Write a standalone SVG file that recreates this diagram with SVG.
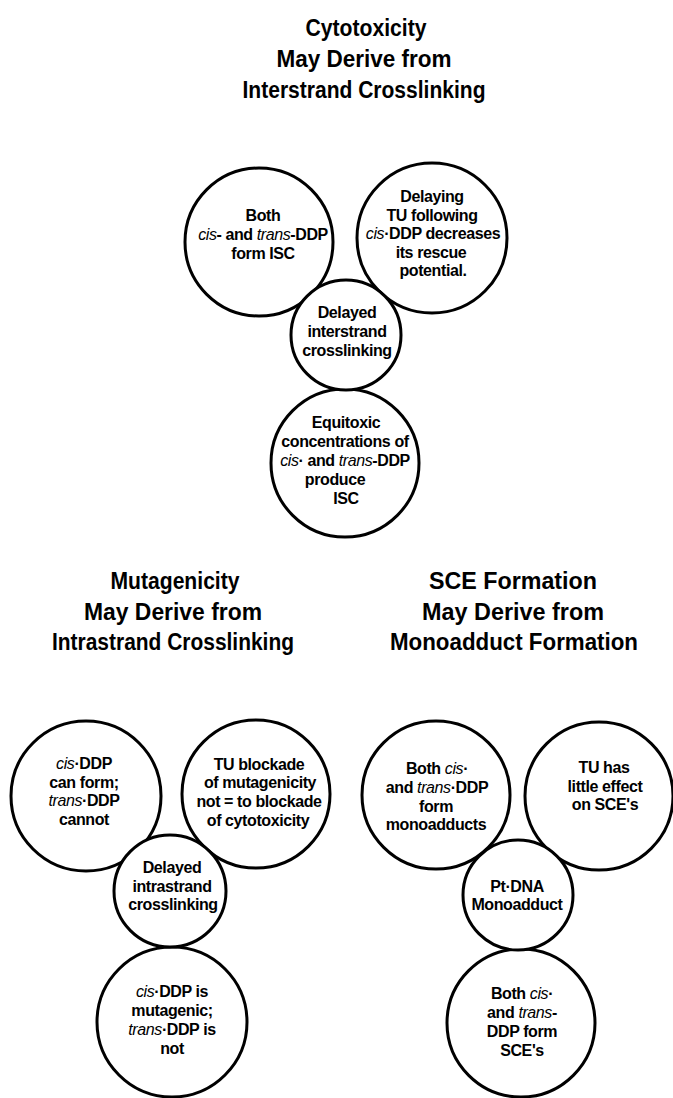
<svg xmlns="http://www.w3.org/2000/svg" width="673" height="1098" viewBox="0 0 673 1098">
<style>
.c{fill:#fff;stroke:#000;stroke-width:3}
.t{font-family:"Liberation Sans",Arial,sans-serif;font-weight:bold;font-size:16px;text-anchor:middle;fill:#000;letter-spacing:-0.4px}
.i{font-style:italic;font-weight:normal}
.h{font-family:"Liberation Sans",Arial,sans-serif;font-weight:bold;font-size:23px;text-anchor:middle;fill:#000}
</style>
<rect width="673" height="1098" fill="#fff"/>

<g id="title-cytotoxicity" class="h">
<text x="366" y="36" textLength="121" lengthAdjust="spacingAndGlyphs">Cytotoxicity</text>
<text x="364" y="67" textLength="175" lengthAdjust="spacingAndGlyphs">May Derive from</text>
<text x="364" y="98" textLength="243" lengthAdjust="spacingAndGlyphs">Interstrand Crosslinking</text>
</g>
<g id="title-mutagenicity" class="h">
<text x="175" y="589" textLength="129" lengthAdjust="spacingAndGlyphs">Mutagenicity</text>
<text x="173" y="620" textLength="178" lengthAdjust="spacingAndGlyphs">May Derive from</text>
<text x="173" y="650" textLength="242" lengthAdjust="spacingAndGlyphs">Intrastrand Crosslinking</text>
</g>
<g id="title-sce" class="h">
<text x="513" y="589" textLength="168" lengthAdjust="spacingAndGlyphs">SCE Formation</text>
<text x="513" y="620" textLength="182" lengthAdjust="spacingAndGlyphs">May Derive from</text>
<text x="514" y="650" textLength="248" lengthAdjust="spacingAndGlyphs">Monoadduct Formation</text>
</g>

<g id="connectors"></g>

<!-- Top cluster -->
<g id="node-both-isc">
<circle class="c" cx="259" cy="242" r="74"/>
<text class="t" x="263" y="221">Both</text>
<text class="t" x="263" y="240"><tspan class="i">cis</tspan>- and <tspan class="i">trans</tspan>-DDP</text>
<text class="t" x="263" y="259">form ISC</text>
</g>
<g id="node-delaying-tu">
<circle class="c" cx="432" cy="238" r="75"/>
<text class="t" x="432" y="202">Delaying</text>
<text class="t" x="432" y="220.5">TU following</text>
<text class="t" x="433" y="239"><tspan class="i">cis</tspan>·DDP decreases</text>
<text class="t" x="431" y="257.5">its rescue</text>
<text class="t" x="433" y="276">potential.</text>
</g>
<g id="node-equitoxic">
<circle class="c" cx="345" cy="463" r="74"/>
<text class="t" x="346" y="428">Equitoxic</text>
<text class="t" x="345" y="447">concentrations of</text>
<text class="t" x="345" y="466"><tspan class="i">cis</tspan>· and <tspan class="i">trans</tspan>-DDP</text>
<text class="t" x="335" y="485">produce</text>
<text class="t" x="346" y="504">ISC</text>
</g>
<g id="node-delayed-interstrand">
<circle class="c" cx="346" cy="335" r="55"/>
<text class="t" x="347" y="318">Delayed</text>
<text class="t" x="347" y="337">interstrand</text>
<text class="t" x="347" y="356">crosslinking</text>
</g>

<!-- Bottom-left cluster -->
<g id="node-cis-can-form">
<circle class="c" cx="86" cy="796" r="75"/>
<text class="t" x="84" y="769"><tspan class="i">cis</tspan>·DDP</text>
<text class="t" x="84" y="788">can form;</text>
<text class="t" x="84" y="806"><tspan class="i">trans</tspan>·DDP</text>
<text class="t" x="84" y="825">cannot</text>
</g>
<g id="node-tu-blockade">
<circle class="c" cx="256" cy="794" r="74"/>
<text class="t" x="259" y="770">TU blockade</text>
<text class="t" x="260" y="788">of mutagenicity</text>
<text class="t" x="259" y="807">not = to blockade</text>
<text class="t" x="258" y="826">of cytotoxicity</text>
</g>
<g id="node-cis-mutagenic">
<circle class="c" cx="172" cy="1022" r="75"/>
<text class="t" x="172" y="997"><tspan class="i">cis</tspan>·DDP is</text>
<text class="t" x="172" y="1016">mutagenic;</text>
<text class="t" x="172" y="1035"><tspan class="i">trans</tspan>·DDP is</text>
<text class="t" x="172" y="1054">not</text>
</g>
<g id="node-delayed-intrastrand">
<circle class="c" cx="170" cy="891" r="56"/>
<text class="t" x="172" y="873">Delayed</text>
<text class="t" x="172" y="892">intrastrand</text>
<text class="t" x="173" y="910">crosslinking</text>
</g>

<!-- Bottom-right cluster -->
<g id="node-both-monoadducts">
<circle class="c" cx="436" cy="795" r="74"/>
<text class="t" x="437" y="774">Both <tspan class="i">cis</tspan>·</text>
<text class="t" x="437" y="793">and <tspan class="i">trans</tspan>·DDP</text>
<text class="t" x="436" y="812">form</text>
<text class="t" x="436" y="830">monoadducts</text>
</g>
<g id="node-tu-little-effect">
<circle class="c" cx="599" cy="796" r="74"/>
<text class="t" x="604" y="773">TU has</text>
<text class="t" x="605" y="792">little effect</text>
<text class="t" x="605" y="810">on SCE's</text>
</g>
<g id="node-both-sces">
<circle class="c" cx="521" cy="1023" r="74"/>
<text class="t" x="522" y="999">Both <tspan class="i">cis</tspan>·</text>
<text class="t" x="522" y="1018">and <tspan class="i">trans</tspan>-</text>
<text class="t" x="522" y="1037">DDP form</text>
<text class="t" x="522" y="1056">SCE's</text>
</g>
<g id="node-pt-dna">
<circle class="c" cx="518" cy="895" r="55"/>
<text class="t" x="517" y="892">Pt·DNA</text>
<text class="t" x="517" y="910">Monoadduct</text>
</g>
</svg>
